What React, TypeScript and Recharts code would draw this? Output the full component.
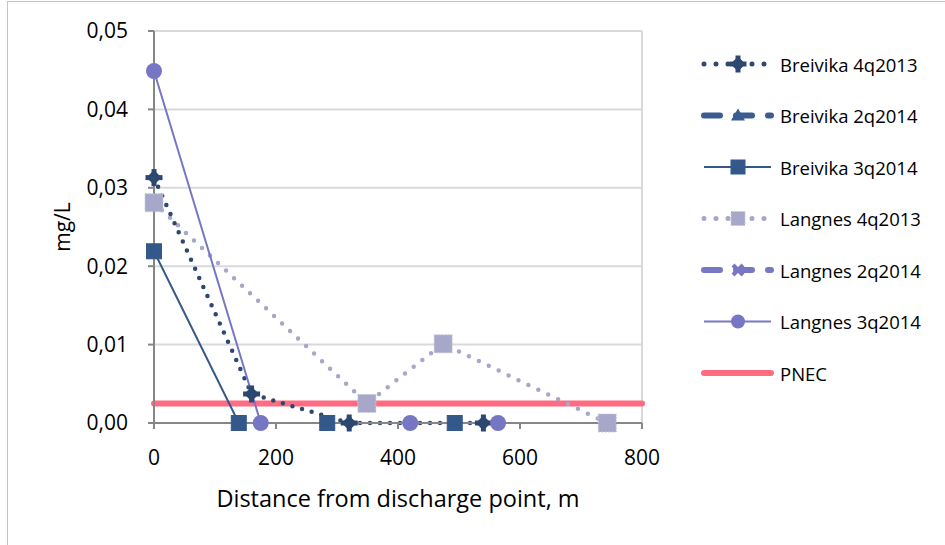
import React from 'react';
import { LineChart, Line, XAxis, YAxis, CartesianGrid, ReferenceLine } from 'recharts';

const FONT = '"Open Sans", "DejaVu Sans", sans-serif';

// Series data (distance m, concentration mg/L)
const breivika4q2013 = [
  { x: 0, y: 0.0313 },
  { x: 160, y: 0.0037 },
  { x: 320, y: 0 },
  { x: 540, y: 0 },
];
const breivika2q2014: { x: number; y: number | null }[] = [];
const breivika3q2014 = [
  { x: 0, y: 0.0219 },
  { x: 139, y: 0 },
  { x: 284, y: 0 },
  { x: 493, y: 0 },
];
const langnes4q2013 = [
  { x: 0, y: 0.0281 },
  { x: 349, y: 0.0025 },
  { x: 474, y: 0.0101 },
  { x: 743, y: 0 },
];
const langnes2q2014: { x: number; y: number | null }[] = [];
const langnes3q2014 = [
  { x: 0, y: 0.0449 },
  { x: 175, y: 0 },
  { x: 420, y: 0 },
  { x: 564, y: 0 },
];
const pnecValue = 0.0025;
const pnec = [
  { x: 0, y: pnecValue },
  { x: 800, y: pnecValue },
];

const xTicks = [0, 200, 400, 600, 800];
const yTicks = [0, 0.01, 0.02, 0.03, 0.04, 0.05];

const C_B4 = '#2C4770';
const C_B2 = '#3A5C92';
const C_B3 = '#34588A';
const C_L4 = '#A7A7C9';
const C_L2 = '#7777C4';
const C_L3 = '#7676C5';
const C_PNEC = '#FF6B80';

const StarMark = ({ cx, cy, color }: any) => {
  if (cx == null || cy == null) return null;
  const d = 7.5;
  const a = 8.5;
  const w = 2.5;
  return (
    <g>
      <polygon points={`${cx},${cy - d} ${cx + d},${cy} ${cx},${cy + d} ${cx - d},${cy}`} fill={color} />
      <rect x={cx - w} y={cy - a} width={w * 2} height={a * 2} fill={color} />
      <rect x={cx - a} y={cy - w} width={a * 2} height={w * 2} fill={color} />
    </g>
  );
};
const SquareMark = ({ cx, cy, color, size, dashed }: any) => {
  if (cx == null || cy == null) return null;
  return (
    <rect
      x={cx - size / 2}
      y={cy - size / 2}
      width={size}
      height={size}
      fill={color}
      stroke={dashed ? '#C8C8DD' : color}
      strokeWidth={1}
      strokeDasharray={dashed ? '2 1.5' : undefined}
    />
  );
};
const CircleMark = ({ cx, cy, color, r }: any) => {
  if (cx == null || cy == null) return null;
  return <circle cx={cx} cy={cy} r={r} fill={color} />;
};
const TriMark = ({ cx, cy, color }: any) => {
  if (cx == null || cy == null) return null;
  return <polygon points={`${cx},${cy - 7} ${cx + 7},${cy + 5} ${cx - 7},${cy + 5}`} fill={color} />;
};
const XMark = ({ cx, cy, color }: any) => {
  if (cx == null || cy == null) return null;
  return (
    <g stroke={color} strokeWidth={4}>
      <line x1={cx - 5} y1={cy - 5} x2={cx + 5} y2={cy + 5} />
      <line x1={cx - 5} y1={cy + 5} x2={cx + 5} y2={cy - 5} />
    </g>
  );
};

const legendItems = [
  { name: 'Breivika 4q2013', color: C_B4, dash: '0 12', width: 5, cap: 'round', mark: (x: number, y: number) => <StarMark cx={x} cy={y} color={C_B4} /> },
  { name: 'Breivika 2q2014', color: C_B2, dash: '16 16', width: 6, cap: 'round', mark: (x: number, y: number) => <TriMark cx={x} cy={y} color={C_B2} /> },
  { name: 'Breivika 3q2014', color: C_B3, dash: undefined, width: 2, cap: 'butt', mark: (x: number, y: number) => <SquareMark cx={x} cy={y} color={C_B3} size={14} /> },
  { name: 'Langnes 4q2013', color: C_L4, dash: '0 12', width: 5, cap: 'round', mark: (x: number, y: number) => <SquareMark cx={x} cy={y} color={C_L4} size={14} dashed /> },
  { name: 'Langnes 2q2014', color: C_L2, dash: '16 16', width: 6, cap: 'round', mark: (x: number, y: number) => <XMark cx={x} cy={y} color={C_L2} /> },
  { name: 'Langnes 3q2014', color: C_L3, dash: undefined, width: 2, cap: 'butt', mark: (x: number, y: number) => <CircleMark cx={x} cy={y} color={C_L3} r={7} /> },
  { name: 'PNEC', color: C_PNEC, dash: undefined, width: 6, cap: 'round', mark: null as any },
];

const fmtY = (v: number) => v.toFixed(2).replace('.', ',');

export default function App() {
  return (
    <div style={{ position: 'absolute', left: 0, top: 0, width: 945, height: 545, background: '#fff' }}>
      <div
        style={{
          position: 'absolute',
          left: 7,
          top: 1,
          width: 960,
          height: 560,
          border: '1.5px solid #c4c4c4',
          boxSizing: 'border-box',
        }}
      />
      <LineChart
        width={945}
        height={545}
        margin={{ top: 31, right: 303, bottom: 42, left: 74 }}
        style={{ position: 'absolute', left: 0, top: 0 }}
      >
        <CartesianGrid horizontal vertical={false} stroke="#d9d9d9" strokeWidth={2} />
        <ReferenceLine x={800} stroke="#d9d9d9" strokeWidth={2} />
        <XAxis
          type="number"
          dataKey="x"
          domain={[0, 800]}
          ticks={xTicks}
          height={80}
          stroke="#868686"
          strokeWidth={2}
          tickSize={6}
          tickMargin={21}
          tick={{ fill: '#000', fontSize: 21, fontFamily: FONT }}
          label={{
            content: (p: any) => {
              const vb = p.viewBox;
              return (
                <text x={vb.x + vb.width / 2} y={498} textAnchor="middle" dominantBaseline="central" fontSize={23.5} fontFamily={FONT} fill="#000">
                  Distance from discharge point, m
                </text>
              );
            },
          }}
        />
        <YAxis
          type="number"
          dataKey="y"
          domain={[0, 0.05]}
          ticks={yTicks}
          width={80}
          stroke="#868686"
          strokeWidth={2}
          tickSize={6}
          tickMargin={20}
          tickFormatter={fmtY}
          tick={{ fill: '#000', fontSize: 21, fontFamily: FONT }}
          label={{
            content: (p: any) => {
              const vb = p.viewBox;
              const cy = vb.y + vb.height / 2;
              return (
                <text x={62} y={cy} transform={`rotate(-90 62 ${cy})`} textAnchor="middle" dominantBaseline="central" fontSize={21} fontFamily={FONT} fill="#000">
                  mg/L
                </text>
              );
            },
          }}
        />
        <Line
          data={pnec}
          dataKey="y"
          name="PNEC"
          stroke={C_PNEC}
          strokeWidth={6}
          strokeLinecap="round"
          dot={false}
          activeDot={false}
          isAnimationActive={false}
          legendType="none"
        />
        <Line
          data={langnes4q2013}
          dataKey="y"
          name="Langnes 4q2013"
          stroke={C_L4}
          strokeWidth={4.5}
          strokeDasharray="0 11"
          strokeLinecap="round"
          dot={(p: any) => <SquareMark key={`l4-${p.index}`} cx={p.cx} cy={p.cy} color={C_L4} size={18} dashed />}
          activeDot={false}
          isAnimationActive={false}
        />
        <Line
          data={breivika4q2013}
          dataKey="y"
          name="Breivika 4q2013"
          stroke={C_B4}
          strokeWidth={4.5}
          strokeDasharray="0 10"
          strokeLinecap="round"
          dot={(p: any) => <StarMark key={`b4-${p.index}`} cx={p.cx} cy={p.cy} color={C_B4} />}
          activeDot={false}
          isAnimationActive={false}
        />
        <Line
          data={breivika2q2014}
          dataKey="y"
          name="Breivika 2q2014"
          stroke={C_B2}
          strokeWidth={5}
          strokeDasharray="16 16"
          dot={(p: any) => <TriMark key={`b2-${p.index}`} cx={p.cx} cy={p.cy} color={C_B2} />}
          activeDot={false}
          isAnimationActive={false}
        />
        <Line
          data={langnes2q2014}
          dataKey="y"
          name="Langnes 2q2014"
          stroke={C_L2}
          strokeWidth={5}
          strokeDasharray="16 16"
          dot={(p: any) => <XMark key={`l2-${p.index}`} cx={p.cx} cy={p.cy} color={C_L2} />}
          activeDot={false}
          isAnimationActive={false}
        />
        <Line
          data={breivika3q2014}
          dataKey="y"
          name="Breivika 3q2014"
          stroke={C_B3}
          strokeWidth={2}
          dot={(p: any) => <SquareMark key={`b3-${p.index}`} cx={p.cx} cy={p.cy} color={C_B3} size={15} />}
          activeDot={false}
          isAnimationActive={false}
        />
        <Line
          data={langnes3q2014}
          dataKey="y"
          name="Langnes 3q2014"
          stroke={C_L3}
          strokeWidth={2}
          dot={(p: any) => <CircleMark key={`l3-${p.index}`} cx={p.cx} cy={p.cy} color={C_L3} r={8} />}
          activeDot={false}
          isAnimationActive={false}
        />
      </LineChart>
      <svg width={250} height={360} style={{ position: 'absolute', left: 695, top: 40 }}>
        {legendItems.map((it, i) => {
          const y = 24 + i * 51.5;
          return (
            <g key={it.name}>
              <line x1={9} x2={76} y1={y} y2={y} stroke={it.color} strokeWidth={it.width} strokeDasharray={it.dash} strokeLinecap={it.cap as any} />
              {it.mark ? it.mark(43, y) : null}
              <text x={85} y={y} dominantBaseline="central" fontSize={18.5} fontFamily={FONT} fill="#000">
                {it.name}
              </text>
            </g>
          );
        })}
      </svg>
    </div>
  );
}
